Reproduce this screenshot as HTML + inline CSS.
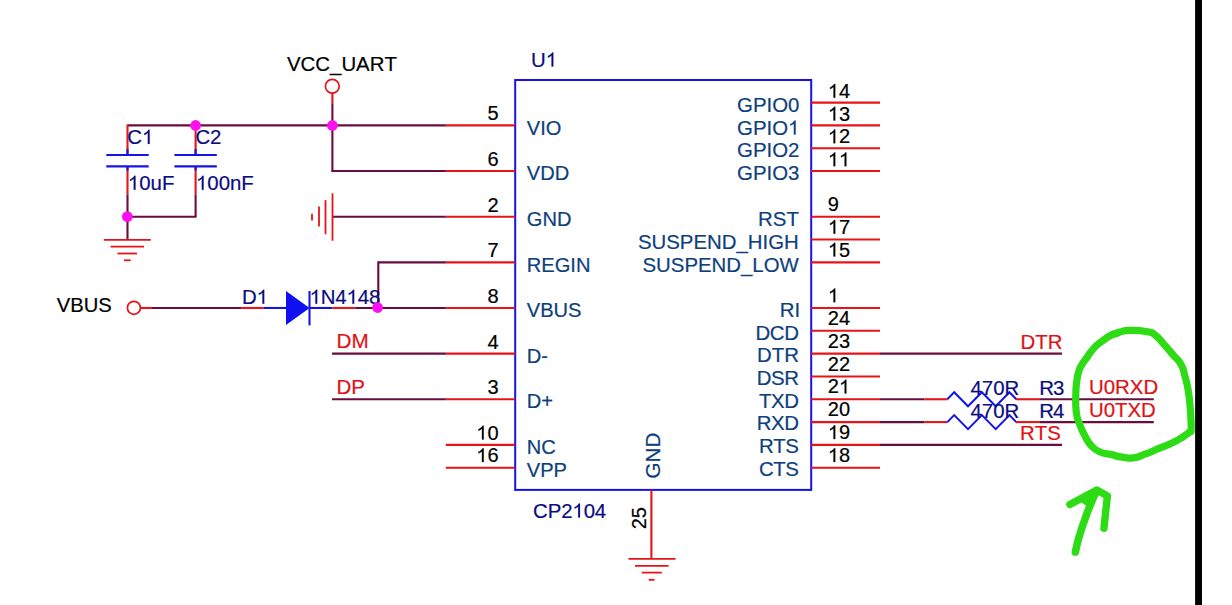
<!DOCTYPE html>
<html><head><meta charset="utf-8"><title>CP2104</title>
<style>html,body{margin:0;padding:0;background:#fff;}body{width:1232px;height:605px;overflow:hidden;position:relative;}svg{position:absolute;left:0;top:0;}text{font-family:"Liberation Sans",sans-serif;font-size:20.4px;stroke-width:0.2px;font-kerning:none;white-space:pre;}</style>
</head><body>
<svg width="1232" height="605" viewBox="0 0 1232 605">
<rect x="0" y="0" width="1232" height="605" fill="#ffffff"/>
<rect x="1195.1" y="0" width="6.9" height="605" fill="#000"/>
<rect x="515.2" y="80.0" width="296.0" height="409.9" fill="none" stroke="#1414e6" stroke-width="2"/>
<line x1="445.8" y1="125.42" x2="515.2" y2="125.42" stroke="#e61418" stroke-width="2.1" stroke-linecap="butt"/>
<text x="487.38" y="119.52" fill="#000" stroke="#000" style="font-size:20px">5</text>
<text x="526.80" y="134.62" fill="#0e3f7c" stroke="#0e3f7c" style="font-size:20.1px">VIO</text>
<line x1="445.8" y1="171.06" x2="515.2" y2="171.06" stroke="#e61418" stroke-width="2.1" stroke-linecap="butt"/>
<text x="487.38" y="166.16" fill="#000" stroke="#000" style="font-size:20px">6</text>
<text x="526.80" y="179.56" fill="#0e3f7c" stroke="#0e3f7c" style="font-size:20.1px">VDD</text>
<line x1="445.8" y1="216.7" x2="515.2" y2="216.7" stroke="#e61418" stroke-width="2.1" stroke-linecap="butt"/>
<text x="487.38" y="211.79999999999998" fill="#000" stroke="#000" style="font-size:20px">2</text>
<text x="526.80" y="226.2" fill="#0e3f7c" stroke="#0e3f7c" style="font-size:20.1px">GND</text>
<line x1="445.8" y1="262.34" x2="515.2" y2="262.34" stroke="#e61418" stroke-width="2.1" stroke-linecap="butt"/>
<text x="487.38" y="257.44" fill="#000" stroke="#000" style="font-size:20px">7</text>
<text x="526.80" y="271.73999999999995" fill="#0e3f7c" stroke="#0e3f7c" style="font-size:20.1px">REGIN</text>
<line x1="445.8" y1="307.98" x2="515.2" y2="307.98" stroke="#e61418" stroke-width="2.1" stroke-linecap="butt"/>
<text x="487.38" y="303.08000000000004" fill="#000" stroke="#000" style="font-size:20px">8</text>
<text x="526.80" y="316.98" fill="#0e3f7c" stroke="#0e3f7c" style="font-size:20.1px">VBUS</text>
<line x1="445.8" y1="353.62" x2="515.2" y2="353.62" stroke="#e61418" stroke-width="2.1" stroke-linecap="butt"/>
<text x="487.38" y="348.72" fill="#000" stroke="#000" style="font-size:20px">4</text>
<text x="526.80" y="362.62" fill="#0e3f7c" stroke="#0e3f7c" style="font-size:20.1px">D-</text>
<line x1="445.8" y1="399.26" x2="515.2" y2="399.26" stroke="#e61418" stroke-width="2.1" stroke-linecap="butt"/>
<text x="487.38" y="394.36" fill="#000" stroke="#000" style="font-size:20px">3</text>
<text x="526.80" y="408.06" fill="#0e3f7c" stroke="#0e3f7c" style="font-size:20.1px">D+</text>
<line x1="445.8" y1="444.9" x2="515.2" y2="444.9" stroke="#e61418" stroke-width="2.1" stroke-linecap="butt"/>
<path d="M483.71,439.50 H481.95 V428.78 Q481.31,429.36 480.28,429.94 Q479.25,430.52 478.43,430.81 V429.18 Q479.91,428.52 481.01,427.57 Q482.11,426.63 482.57,425.74 H483.71 Z" fill="#000" stroke="#000" stroke-width="0.2"/>
<text x="487.38" y="439.5" fill="#000" stroke="#000" style="font-size:20px">0</text>
<text x="526.80" y="454.4" fill="#0e3f7c" stroke="#0e3f7c" style="font-size:20.1px">NC</text>
<line x1="445.8" y1="467.72" x2="515.2" y2="467.72" stroke="#e61418" stroke-width="2.1" stroke-linecap="butt"/>
<path d="M483.71,462.12 H481.95 V451.40 Q481.31,451.98 480.28,452.56 Q479.25,453.14 478.43,453.43 V451.80 Q479.91,451.14 481.01,450.19 Q482.11,449.25 482.57,448.36 H483.71 Z" fill="#000" stroke="#000" stroke-width="0.2"/>
<text x="487.38" y="462.12" fill="#000" stroke="#000" style="font-size:20px">6</text>
<text x="526.80" y="477.02000000000004" fill="#0e3f7c" stroke="#0e3f7c" style="font-size:20.1px">VPP</text>
<line x1="811.2" y1="102.6" x2="880" y2="102.6" stroke="#e61418" stroke-width="2.1" stroke-linecap="butt"/>
<path d="M835.25,97.70 H833.49 V86.98 Q832.86,87.56 831.83,88.14 Q830.80,88.72 829.98,89.01 V87.38 Q831.45,86.72 832.56,85.77 Q833.66,84.83 834.12,83.94 H835.25 Z" fill="#000" stroke="#000" stroke-width="0.2"/>
<text x="838.92" y="97.69999999999999" fill="#000" stroke="#000" style="font-size:20px">4</text>
<text x="737.04" y="111.8" fill="#0e3f7c" stroke="#0e3f7c" style="font-size:20.4px">GPIO0</text>
<line x1="811.2" y1="125.42" x2="880" y2="125.42" stroke="#e61418" stroke-width="2.1" stroke-linecap="butt"/>
<path d="M835.25,120.52 H833.49 V109.80 Q832.86,110.38 831.83,110.96 Q830.80,111.54 829.98,111.83 V110.20 Q831.45,109.54 832.56,108.59 Q833.66,107.65 834.12,106.76 H835.25 Z" fill="#000" stroke="#000" stroke-width="0.2"/>
<text x="838.92" y="120.52" fill="#000" stroke="#000" style="font-size:20px">3</text>
<text x="737.04" y="134.62" fill="#0e3f7c" stroke="#0e3f7c" style="font-size:20.4px">GPIO</text>
<path d="M795.65,134.62 H793.86 V123.68 Q793.21,124.27 792.16,124.87 Q791.11,125.46 790.28,125.75 V124.09 Q791.78,123.42 792.91,122.45 Q794.03,121.49 794.50,120.58 H795.65 Z" fill="#0e3f7c" stroke="#0e3f7c" stroke-width="0.2"/>
<line x1="811.2" y1="148.24" x2="880" y2="148.24" stroke="#e61418" stroke-width="2.1" stroke-linecap="butt"/>
<path d="M835.25,143.34 H833.49 V132.62 Q832.86,133.20 831.83,133.78 Q830.80,134.36 829.98,134.65 V133.02 Q831.45,132.36 832.56,131.41 Q833.66,130.47 834.12,129.58 H835.25 Z" fill="#000" stroke="#000" stroke-width="0.2"/>
<text x="838.92" y="143.34" fill="#000" stroke="#000" style="font-size:20px">2</text>
<text x="737.04" y="157.44" fill="#0e3f7c" stroke="#0e3f7c" style="font-size:20.4px">GPIO2</text>
<line x1="811.2" y1="171.06" x2="880" y2="171.06" stroke="#e61418" stroke-width="2.1" stroke-linecap="butt"/>
<path d="M835.25,166.16 H833.49 V155.44 Q832.86,156.02 831.83,156.60 Q830.80,157.18 829.98,157.47 V155.84 Q831.45,155.18 832.56,154.23 Q833.66,153.29 834.12,152.40 H835.25 Z" fill="#000" stroke="#000" stroke-width="0.2"/>
<path d="M846.37,166.16 H844.62 V155.44 Q843.98,156.02 842.95,156.60 Q841.92,157.18 841.10,157.47 V155.84 Q842.58,155.18 843.68,154.23 Q844.78,153.29 845.24,152.40 H846.37 Z" fill="#000" stroke="#000" stroke-width="0.2"/>
<text x="737.04" y="180.26" fill="#0e3f7c" stroke="#0e3f7c" style="font-size:20.4px">GPIO3</text>
<line x1="811.2" y1="216.7" x2="880" y2="216.7" stroke="#e61418" stroke-width="2.1" stroke-linecap="butt"/>
<text x="827.80" y="210.89999999999998" fill="#000" stroke="#000" style="font-size:20px">9</text>
<text x="758.10" y="225.89999999999998" fill="#0e3f7c" stroke="#0e3f7c" style="font-size:20.4px">RST</text>
<line x1="811.2" y1="239.52" x2="880" y2="239.52" stroke="#e61418" stroke-width="2.1" stroke-linecap="butt"/>
<path d="M835.25,233.72 H833.49 V223.00 Q832.86,223.58 831.83,224.16 Q830.80,224.74 829.98,225.03 V223.40 Q831.45,222.74 832.56,221.79 Q833.66,220.85 834.12,219.96 H835.25 Z" fill="#000" stroke="#000" stroke-width="0.2"/>
<text x="838.92" y="233.72" fill="#000" stroke="#000" style="font-size:20px">7</text>
<text x="637.93" y="248.72" fill="#0e3f7c" stroke="#0e3f7c" style="font-size:20.4px">SUSPEND_HIGH</text>
<line x1="811.2" y1="262.34" x2="880" y2="262.34" stroke="#e61418" stroke-width="2.1" stroke-linecap="butt"/>
<path d="M835.25,256.54 H833.49 V245.82 Q832.86,246.40 831.83,246.98 Q830.80,247.56 829.98,247.85 V246.22 Q831.45,245.56 832.56,244.61 Q833.66,243.67 834.12,242.78 H835.25 Z" fill="#000" stroke="#000" stroke-width="0.2"/>
<text x="838.92" y="256.53999999999996" fill="#000" stroke="#000" style="font-size:20px">5</text>
<text x="642.46" y="271.53999999999996" fill="#0e3f7c" stroke="#0e3f7c" style="font-size:20.4px">SUSPEND_LOW</text>
<line x1="811.2" y1="307.98" x2="880" y2="307.98" stroke="#e61418" stroke-width="2.1" stroke-linecap="butt"/>
<path d="M835.25,302.18 H833.49 V291.46 Q832.86,292.04 831.83,292.62 Q830.80,293.20 829.98,293.49 V291.86 Q831.45,291.20 832.56,290.25 Q833.66,289.31 834.12,288.42 H835.25 Z" fill="#000" stroke="#000" stroke-width="0.2"/>
<text x="779.70" y="316.68" fill="#0e3f7c" stroke="#0e3f7c" style="font-size:20.4px">RI</text>
<line x1="811.2" y1="330.8" x2="880" y2="330.8" stroke="#e61418" stroke-width="2.1" stroke-linecap="butt"/>
<text x="827.80" y="325.0" fill="#000" stroke="#000" style="font-size:20px">24</text>
<text x="755.60" y="339.5" fill="#0e3f7c" stroke="#0e3f7c" style="font-size:20.4px;letter-spacing:-0.45px">DCD</text>
<line x1="811.2" y1="353.62" x2="880" y2="353.62" stroke="#e61418" stroke-width="2.1" stroke-linecap="butt"/>
<text x="827.80" y="347.82" fill="#000" stroke="#000" style="font-size:20px">23</text>
<text x="756.97" y="362.32" fill="#0e3f7c" stroke="#0e3f7c" style="font-size:20.4px">DTR</text>
<line x1="811.2" y1="376.44" x2="880" y2="376.44" stroke="#e61418" stroke-width="2.1" stroke-linecap="butt"/>
<text x="827.80" y="370.64" fill="#000" stroke="#000" style="font-size:20px">22</text>
<text x="756.73" y="385.14" fill="#0e3f7c" stroke="#0e3f7c" style="font-size:20.4px;letter-spacing:-0.45px">DSR</text>
<line x1="811.2" y1="399.26" x2="880" y2="399.26" stroke="#e61418" stroke-width="2.1" stroke-linecap="butt"/>
<text x="827.80" y="393.46" fill="#000" stroke="#000" style="font-size:20px">2</text>
<path d="M846.37,393.46 H844.62 V382.74 Q843.98,383.32 842.95,383.90 Q841.92,384.48 841.10,384.77 V383.14 Q842.58,382.48 843.68,381.53 Q844.78,380.59 845.24,379.70 H846.37 Z" fill="#000" stroke="#000" stroke-width="0.2"/>
<text x="759.00" y="407.65999999999997" fill="#0e3f7c" stroke="#0e3f7c" style="font-size:20.4px;letter-spacing:-0.45px">TXD</text>
<line x1="811.2" y1="422.08" x2="880" y2="422.08" stroke="#e61418" stroke-width="2.1" stroke-linecap="butt"/>
<text x="827.80" y="416.28" fill="#000" stroke="#000" style="font-size:20px">20</text>
<text x="756.73" y="430.47999999999996" fill="#0e3f7c" stroke="#0e3f7c" style="font-size:20.4px;letter-spacing:-0.45px">RXD</text>
<line x1="811.2" y1="444.9" x2="880" y2="444.9" stroke="#e61418" stroke-width="2.1" stroke-linecap="butt"/>
<path d="M835.25,439.10 H833.49 V428.38 Q832.86,428.96 831.83,429.54 Q830.80,430.12 829.98,430.41 V428.78 Q831.45,428.12 832.56,427.17 Q833.66,426.23 834.12,425.34 H835.25 Z" fill="#000" stroke="#000" stroke-width="0.2"/>
<text x="838.92" y="439.09999999999997" fill="#000" stroke="#000" style="font-size:20px">9</text>
<text x="759.00" y="453.29999999999995" fill="#0e3f7c" stroke="#0e3f7c" style="font-size:20.4px;letter-spacing:-0.45px">RTS</text>
<line x1="811.2" y1="467.72" x2="880" y2="467.72" stroke="#e61418" stroke-width="2.1" stroke-linecap="butt"/>
<path d="M835.25,461.92 H833.49 V451.20 Q832.86,451.78 831.83,452.36 Q830.80,452.94 829.98,453.23 V451.60 Q831.45,450.94 832.56,449.99 Q833.66,449.05 834.12,448.16 H835.25 Z" fill="#000" stroke="#000" stroke-width="0.2"/>
<text x="838.92" y="461.92" fill="#000" stroke="#000" style="font-size:20px">8</text>
<text x="759.00" y="476.12" fill="#0e3f7c" stroke="#0e3f7c" style="font-size:20.4px;letter-spacing:-0.45px">CTS</text>
<text x="531.00" y="66.5" fill="#0c0c80" stroke="#0c0c80" style="font-size:20.4px">U</text>
<path d="M553.33,66.50 H551.54 V55.56 Q550.89,56.15 549.84,56.75 Q548.79,57.34 547.95,57.63 V55.97 Q549.46,55.30 550.58,54.33 Q551.71,53.37 552.18,52.46 H553.33 Z" fill="#0c0c80" stroke="#0c0c80" stroke-width="0.2"/>
<text x="533.00" y="517.6" fill="#0c0c80" stroke="#0c0c80" style="font-size:20.4px;letter-spacing:-0.1px">CP2</text>
<path d="M579.98,517.60 H578.19 V506.66 Q577.54,507.25 576.49,507.85 Q575.44,508.44 574.61,508.73 V507.07 Q576.11,506.40 577.24,505.43 Q578.36,504.47 578.83,503.56 H579.98 Z" fill="#0c0c80" stroke="#0c0c80" stroke-width="0.2"/>
<text x="583.63" y="517.6" fill="#0c0c80" stroke="#0c0c80" style="font-size:20.4px;letter-spacing:-0.1px">04</text>
<line x1="651.4" y1="489.9" x2="651.4" y2="558.9" stroke="#e61418" stroke-width="2.1" stroke-linecap="butt"/>
<line x1="628.5" y1="558.9" x2="675.5" y2="558.9" stroke="#e61418" stroke-width="1.8" stroke-linecap="butt"/>
<line x1="635" y1="565.8" x2="668.6" y2="565.8" stroke="#e61418" stroke-width="1.8" stroke-linecap="butt"/>
<line x1="641.8" y1="572.6" x2="661.8" y2="572.6" stroke="#e61418" stroke-width="1.8" stroke-linecap="butt"/>
<line x1="648.7" y1="579.8" x2="654.6" y2="579.8" stroke="#e61418" stroke-width="1.8" stroke-linecap="butt"/>
<text transform="translate(660.1,478.4) rotate(-90)" fill="#0e3f7c" stroke="#0e3f7c" style="font-size:20.6px">GND</text>
<text transform="translate(646.4,529.3) rotate(-90)" fill="#000" stroke="#000" style="font-size:20px">25</text>
<line x1="127.5" y1="125.42" x2="445.8" y2="125.42" stroke="#690c3f" stroke-width="2.1" stroke-linecap="butt"/>
<line x1="332.4" y1="93" x2="332.4" y2="103.2" stroke="#e61418" stroke-width="2.1" stroke-linecap="butt"/>
<line x1="332.4" y1="103.2" x2="332.4" y2="171.06" stroke="#690c3f" stroke-width="2.1" stroke-linecap="butt"/>
<line x1="331.35" y1="171.06" x2="445.8" y2="171.06" stroke="#690c3f" stroke-width="2.1" stroke-linecap="butt"/>
<circle cx="332.3" cy="86.3" r="6.9" fill="#fff" stroke="#e61418" stroke-width="1.7"/>
<text x="287.00" y="71.3" fill="#000" stroke="#000" style="font-size:20.4px">VCC_UART</text>
<line x1="127.5" y1="124.52" x2="127.5" y2="155" stroke="#e61418" stroke-width="2.1" stroke-linecap="butt"/>
<line x1="127.5" y1="166.5" x2="127.5" y2="194.4" stroke="#e61418" stroke-width="2.1" stroke-linecap="butt"/>
<line x1="127.5" y1="194.4" x2="127.5" y2="216.7" stroke="#690c3f" stroke-width="2.1" stroke-linecap="butt"/>
<line x1="127.5" y1="149" x2="127.5" y2="155" stroke="#1414e6" stroke-width="2.1" stroke-linecap="butt"/>
<line x1="127.5" y1="166.4" x2="127.5" y2="170.5" stroke="#1414e6" stroke-width="2.1" stroke-linecap="butt"/>
<line x1="106.3" y1="155" x2="148.7" y2="155" stroke="#1414e6" stroke-width="2.1" stroke-linecap="butt"/>
<line x1="106.3" y1="166.4" x2="148.7" y2="166.4" stroke="#1414e6" stroke-width="2.1" stroke-linecap="butt"/>
<text x="127.30" y="143.9" fill="#0c0c80" stroke="#0c0c80" style="font-size:20.4px">C</text>
<path d="M149.63,143.90 H147.84 V132.96 Q147.19,133.55 146.14,134.15 Q145.09,134.74 144.25,135.03 V133.37 Q145.76,132.70 146.88,131.73 Q148.01,130.77 148.48,129.86 H149.63 Z" fill="#0c0c80" stroke="#0c0c80" stroke-width="0.2"/>
<path d="M135.50,189.80 H133.71 V178.86 Q133.06,179.45 132.01,180.05 Q130.96,180.64 130.12,180.93 V179.27 Q131.63,178.60 132.75,177.63 Q133.88,176.67 134.34,175.76 H135.50 Z" fill="#0c0c80" stroke="#0c0c80" stroke-width="0.2"/>
<text x="139.25" y="189.8" fill="#0c0c80" stroke="#0c0c80" style="font-size:20.4px">0uF</text>
<line x1="195.6" y1="124.52" x2="195.6" y2="155" stroke="#e61418" stroke-width="2.1" stroke-linecap="butt"/>
<line x1="195.6" y1="166.5" x2="195.6" y2="194.4" stroke="#e61418" stroke-width="2.1" stroke-linecap="butt"/>
<line x1="195.6" y1="194.4" x2="195.6" y2="216.7" stroke="#690c3f" stroke-width="2.1" stroke-linecap="butt"/>
<line x1="195.6" y1="149" x2="195.6" y2="155" stroke="#1414e6" stroke-width="2.1" stroke-linecap="butt"/>
<line x1="195.6" y1="166.4" x2="195.6" y2="170.5" stroke="#1414e6" stroke-width="2.1" stroke-linecap="butt"/>
<line x1="174.4" y1="155" x2="216.79999999999998" y2="155" stroke="#1414e6" stroke-width="2.1" stroke-linecap="butt"/>
<line x1="174.4" y1="166.4" x2="216.79999999999998" y2="166.4" stroke="#1414e6" stroke-width="2.1" stroke-linecap="butt"/>
<text x="195.40" y="143.9" fill="#0c0c80" stroke="#0c0c80" style="font-size:20.4px">C2</text>
<path d="M203.60,189.80 H201.81 V178.86 Q201.16,179.45 200.11,180.05 Q199.06,180.64 198.22,180.93 V179.27 Q199.73,178.60 200.85,177.63 Q201.98,176.67 202.44,175.76 H203.60 Z" fill="#0c0c80" stroke="#0c0c80" stroke-width="0.2"/>
<text x="207.35" y="189.8" fill="#0c0c80" stroke="#0c0c80" style="font-size:20.4px">00nF</text>
<line x1="127.5" y1="216.7" x2="196.5" y2="216.7" stroke="#690c3f" stroke-width="2.1" stroke-linecap="butt"/>
<line x1="127.5" y1="216.7" x2="127.5" y2="239.8" stroke="#690c3f" stroke-width="2.1" stroke-linecap="butt"/>
<line x1="103.8" y1="239.8" x2="150.8" y2="239.8" stroke="#e61418" stroke-width="1.8" stroke-linecap="butt"/>
<line x1="110.6" y1="246.6" x2="144" y2="246.6" stroke="#e61418" stroke-width="1.8" stroke-linecap="butt"/>
<line x1="117.5" y1="253.5" x2="137" y2="253.5" stroke="#e61418" stroke-width="1.8" stroke-linecap="butt"/>
<line x1="124" y1="260.3" x2="130.6" y2="260.3" stroke="#e61418" stroke-width="1.8" stroke-linecap="butt"/>
<line x1="332.5" y1="216.7" x2="445.8" y2="216.7" stroke="#690c3f" stroke-width="2.1" stroke-linecap="butt"/>
<line x1="332.5" y1="193.3" x2="332.5" y2="240.7" stroke="#e61418" stroke-width="1.8" stroke-linecap="butt"/>
<line x1="325.5" y1="200.1" x2="325.5" y2="234.2" stroke="#e61418" stroke-width="1.8" stroke-linecap="butt"/>
<line x1="319" y1="206.6" x2="319" y2="226.6" stroke="#e61418" stroke-width="1.8" stroke-linecap="butt"/>
<line x1="312" y1="213.7" x2="312" y2="220.5" stroke="#e61418" stroke-width="1.8" stroke-linecap="butt"/>
<line x1="378.3" y1="307.98" x2="378.3" y2="261.28999999999996" stroke="#690c3f" stroke-width="2.1" stroke-linecap="butt"/>
<line x1="378.3" y1="262.34" x2="445.8" y2="262.34" stroke="#690c3f" stroke-width="2.1" stroke-linecap="butt"/>
<line x1="141" y1="307.98" x2="152" y2="307.98" stroke="#e61418" stroke-width="2.1" stroke-linecap="butt"/>
<line x1="152" y1="307.98" x2="241.2" y2="307.98" stroke="#690c3f" stroke-width="2.1" stroke-linecap="butt"/>
<line x1="241.2" y1="307.98" x2="263.5" y2="307.98" stroke="#e61418" stroke-width="2.1" stroke-linecap="butt"/>
<line x1="263.5" y1="307.98" x2="286.5" y2="307.98" stroke="#1414e6" stroke-width="2.1" stroke-linecap="butt"/>
<polygon points="286,291.0 286,325.0 309.6,307.98" fill="#1010f0"/>
<line x1="309.5" y1="291.0" x2="309.5" y2="325.4" stroke="#1414e6" stroke-width="2.1" stroke-linecap="butt"/>
<line x1="309.5" y1="307.98" x2="332.2" y2="307.98" stroke="#1414e6" stroke-width="2.1" stroke-linecap="butt"/>
<line x1="332.3" y1="307.98" x2="355.4" y2="307.98" stroke="#e61418" stroke-width="2.1" stroke-linecap="butt"/>
<line x1="355.4" y1="307.98" x2="445.8" y2="307.98" stroke="#690c3f" stroke-width="2.1" stroke-linecap="butt"/>
<circle cx="133.9" cy="307.78000000000003" r="6.5" fill="#fff" stroke="#e61418" stroke-width="1.7"/>
<text x="56.80" y="312.2" fill="#000" stroke="#000" style="font-size:20.2px">VBUS</text>
<text x="241.90" y="303.8" fill="#0c0c80" stroke="#0c0c80" style="font-size:20.4px">D</text>
<path d="M264.23,303.80 H262.44 V292.86 Q261.79,293.45 260.74,294.05 Q259.69,294.64 258.85,294.93 V293.27 Q260.36,292.60 261.48,291.63 Q262.61,290.67 263.08,289.76 H264.23 Z" fill="#0c0c80" stroke="#0c0c80" stroke-width="0.2"/>
<path d="M317.20,303.80 H315.41 V292.86 Q314.76,293.45 313.71,294.05 Q312.66,294.64 311.82,294.93 V293.27 Q313.33,292.60 314.45,291.63 Q315.58,290.67 316.04,289.76 H317.20 Z" fill="#0c0c80" stroke="#0c0c80" stroke-width="0.2"/>
<text x="320.80" y="303.8" fill="#0c0c80" stroke="#0c0c80" style="font-size:20.4px;letter-spacing:-0.15px">N4</text>
<path d="M354.17,303.80 H352.38 V292.86 Q351.73,293.45 350.68,294.05 Q349.63,294.64 348.79,294.93 V293.27 Q350.30,292.60 351.42,291.63 Q352.55,290.67 353.02,289.76 H354.17 Z" fill="#0c0c80" stroke="#0c0c80" stroke-width="0.2"/>
<text x="357.77" y="303.8" fill="#0c0c80" stroke="#0c0c80" style="font-size:20.4px;letter-spacing:-0.15px">48</text>
<line x1="332" y1="353.62" x2="445.8" y2="353.62" stroke="#690c3f" stroke-width="2.1" stroke-linecap="butt"/>
<line x1="332" y1="399.26" x2="445.8" y2="399.26" stroke="#690c3f" stroke-width="2.1" stroke-linecap="butt"/>
<text x="336.50" y="348.3" fill="#df1216" stroke="#df1216" style="font-size:20.7px">DM</text>
<text x="336.50" y="394" fill="#df1216" stroke="#df1216" style="font-size:20.5px">DP</text>
<circle cx="195.6" cy="125.42" r="5.35" fill="#ff10f0"/>
<circle cx="332.4" cy="125.42" r="5.35" fill="#ff10f0"/>
<circle cx="127.3" cy="216.6" r="5.35" fill="#ff10f0"/>
<circle cx="377.6" cy="307.58000000000004" r="5.35" fill="#ff10f0"/>
<line x1="880" y1="353.62" x2="1062" y2="353.62" stroke="#690c3f" stroke-width="2.1" stroke-linecap="butt"/>
<line x1="880" y1="444.9" x2="1062" y2="444.9" stroke="#690c3f" stroke-width="2.1" stroke-linecap="butt"/>
<text x="1020.57" y="348.6" fill="#df1216" stroke="#df1216" style="font-size:20.4px">DTR</text>
<text x="1020.00" y="439.6" fill="#df1216" stroke="#df1216" style="font-size:20.4px">RTS</text>
<line x1="880" y1="399.26" x2="924.4" y2="399.26" stroke="#690c3f" stroke-width="2.1" stroke-linecap="butt"/>
<line x1="924.4" y1="399.26" x2="947.5" y2="399.26" stroke="#e61418" stroke-width="2.1" stroke-linecap="butt"/>
<polyline points="947.3,399.26 954.2,392.26 968.0,406.26 981.9,392.26 995.7,406.26 1009.5,392.26 1016.3,399.26" fill="none" stroke="#1414e6" stroke-width="2" stroke-linejoin="miter"/>
<line x1="1016" y1="399.26" x2="1040" y2="399.26" stroke="#e61418" stroke-width="2.1" stroke-linecap="butt"/>
<line x1="1040" y1="399.26" x2="1153.8" y2="399.26" stroke="#690c3f" stroke-width="2.1" stroke-linecap="butt"/>
<text x="970.50" y="394.7" fill="#0c0c80" stroke="#0c0c80" style="font-size:20.4px">470R</text>
<text x="1039.20" y="394.7" fill="#0c0c80" stroke="#0c0c80" style="font-size:20.4px;letter-spacing:-1.0px">R3</text>
<text x="1089.00" y="394.09999999999997" fill="#df1216" stroke="#df1216" style="font-size:20.4px">U0RXD</text>
<line x1="880" y1="422.08" x2="924.4" y2="422.08" stroke="#690c3f" stroke-width="2.1" stroke-linecap="butt"/>
<line x1="924.4" y1="422.08" x2="947.5" y2="422.08" stroke="#e61418" stroke-width="2.1" stroke-linecap="butt"/>
<polyline points="947.3,422.08 954.2,415.08 968.0,429.08 981.9,415.08 995.7,429.08 1009.5,415.08 1016.3,422.08" fill="none" stroke="#1414e6" stroke-width="2" stroke-linejoin="miter"/>
<line x1="1016" y1="422.08" x2="1040" y2="422.08" stroke="#e61418" stroke-width="2.1" stroke-linecap="butt"/>
<line x1="1040" y1="422.08" x2="1153.8" y2="422.08" stroke="#690c3f" stroke-width="2.1" stroke-linecap="butt"/>
<text x="970.50" y="417.5" fill="#0c0c80" stroke="#0c0c80" style="font-size:20.4px">470R</text>
<text x="1039.20" y="417.5" fill="#0c0c80" stroke="#0c0c80" style="font-size:20.4px;letter-spacing:-1.0px">R4</text>
<text x="1089.00" y="416.9" fill="#df1216" stroke="#df1216" style="font-size:20.4px">U0TXD</text>
<path d="M1112.5,334.6 C1114.5,333.9 1115.3,333.1 1120.0,332.0 C1124.7,330.9 1122.7,330.5 1130.0,330.4 C1137.3,330.3 1140.6,330.5 1147.4,331.8 C1154.2,333.1 1150.9,331.8 1155.5,335.3 C1160.1,338.8 1160.1,340.0 1164.7,345.1 C1169.3,350.2 1168.5,349.5 1172.8,354.6 C1177.1,359.7 1177.6,358.4 1180.9,364.2 C1184.2,370.0 1183.0,369.1 1185.0,376.4 C1187.0,383.7 1186.9,382.0 1188.4,391.4 C1189.9,400.8 1189.8,402.2 1190.5,411.7 C1191.2,421.2 1191.1,421.7 1191.2,427.0 C1191.3,432.3 1190.9,430.2 1190.8,431.4" fill="none" stroke="#2ddc14" stroke-width="7.2" stroke-linecap="round" stroke-linejoin="round"/>
<path d="M1190.8,431.4 C1186.9,433.9 1184.8,436.4 1176.3,440.9 C1167.8,445.4 1167.2,444.9 1158.9,448.4 C1150.6,451.9 1151.9,451.7 1145.0,454.2 C1138.1,456.7 1139.5,457.2 1133.0,457.9 C1126.5,458.6 1126.4,457.8 1120.6,456.9 C1114.8,456.0 1116.6,455.8 1111.3,454.6 C1106.0,453.4 1106.2,454.6 1100.9,452.3 C1095.6,450.0 1095.9,450.4 1091.6,445.9 C1087.3,441.4 1087.9,441.4 1084.7,435.5 C1081.5,429.6 1081.7,430.1 1079.5,423.9 C1077.3,417.7 1077.3,420.1 1076.3,412.4 C1075.3,404.7 1075.7,402.9 1075.8,395.0 C1075.9,387.1 1075.9,388.8 1076.6,382.9 C1077.3,377.0 1077.0,377.6 1078.3,373.0 C1079.6,368.4 1079.1,369.7 1081.4,365.5 C1083.7,361.3 1083.7,362.0 1087.0,357.4 C1090.3,352.8 1089.8,352.5 1093.9,348.1 C1098.0,343.7 1097.9,344.3 1102.5,340.8 C1107.1,337.3 1107.4,337.0 1111.3,335.0 C1115.2,333.0 1115.5,333.8 1117.0,333.4" fill="none" stroke="#2ddc14" stroke-width="7.2" stroke-linecap="round" stroke-linejoin="round"/>
<path d="M1075.4,552.0 C1077.5,541 1081,530 1084.8,519.5 C1088.5,509 1092.5,499 1096.8,490.6" fill="none" stroke="#2ddc14" stroke-width="7.6" stroke-linecap="round" stroke-linejoin="round"/>
<path d="M1069.9,504.6 L1096.8,490.0 L1107.4,495.9 C1106.4,506 1105,517 1104.0,528.2" fill="none" stroke="#2ddc14" stroke-width="7.4" stroke-linecap="round" stroke-linejoin="round"/>
<path d="M1096.8,490.2 L1080.5,499.8 L1089.5,506.5 Z" fill="#2ddc14" stroke="#2ddc14" stroke-width="3" stroke-linejoin="round"/>
</svg></body></html>
